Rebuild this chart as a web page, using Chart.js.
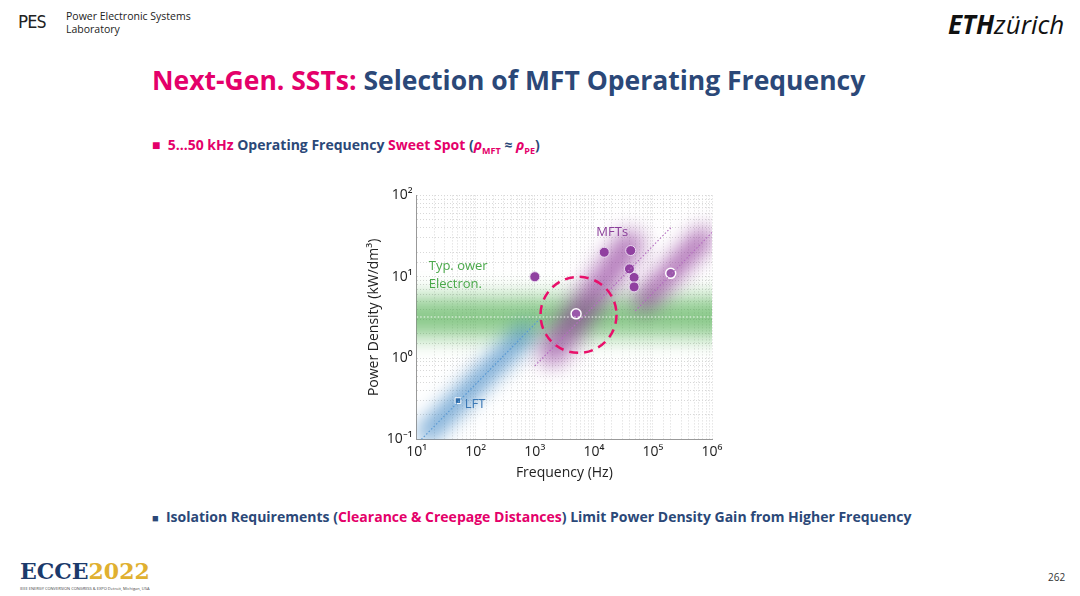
<!DOCTYPE html>
<html><head><meta charset="utf-8">
<script src="https://cdn.jsdelivr.net/npm/chart.js@4"></script>
<style>
body{margin:0;width:1080px;height:596px;background:#fff;font-family:"Open Sans",sans-serif;position:relative;overflow:hidden}
.abs{position:absolute}
#box{left:366px;top:183px;width:364px;height:298px}
</style></head><body>
<div class="abs" style="left:18px;top:12px;font:17px 'DejaVu Sans Mono';letter-spacing:-1px;color:#222">PES</div>
<div class="abs" style="left:66px;top:10px;font-size:10.5px;line-height:13px;color:#222">Power Electronic Systems</div>
<div class="abs" style="left:66px;top:23px;font-size:10.5px;line-height:13px;color:#222">Laboratory</div>
<div class="abs" style="left:948px;top:6px;font-size:26px;color:#111"><b><i>ETH</i></b><span style="font-style:italic">zürich</span></div>
<div class="abs" style="left:152px;top:62px;font-size:26.5px;font-weight:bold;color:#2b4878"><span style="color:#e4006a">Next-Gen. SSTs:</span> Selection of MFT Operating Frequency</div>
<div class="abs" style="left:152px;top:135px;font-size:14px;font-weight:bold;color:#2b4878"><span style="color:#e4006a">■</span>&nbsp; <span style="color:#e4006a">5…50 kHz</span> Operating Frequency <span style="color:#e4006a">Sweet Spot</span> (<i style="color:#e4006a">ρ</i><sub style="color:#e4006a;font-size:9px">MFT</sub> ≈ <i style="color:#e4006a">ρ</i><sub style="color:#e4006a;font-size:9px">PE</sub>)</div>
<div class="abs" style="left:152px;top:507px;font-size:14px;font-weight:bold;color:#2b4878"><span style="font-size:11px">■</span>&nbsp; Isolation Requirements (<span style="color:#e4006a">Clearance &amp; Creepage Distances</span>) Limit Power Density Gain from Higher Frequency</div>
<div class="abs" style="left:20px;top:558px;font:bold 22px 'DejaVu Serif';color:#1b3a6b">ECCE<span style="color:#e0b030">2022</span></div>
<div class="abs" style="left:20px;top:586px;font-size:4px;color:#444">IEEE ENERGY CONVERSION CONGRESS &amp; EXPO Detroit, Michigan, USA</div>
<div class="abs" style="left:1048px;top:570px;font-size:10px;color:#333">262</div>
<div id="box" class="abs"><canvas id="c"></canvas></div>
<script>
// lignes de tendance
const lftLine = [{x:12,y:0.1},{x:1200,y:3}];
const mftLine1 = [{x:1000,y:0.8},{x:200000,y:40}];
const mftLine2 = [{x:50000,y:3.8},{x:1000000,y:35}];
const peLine = [{x:10,y:3.2},{x:1000000,y:3.2}];
// points mesurés
const mftFilled = [{x:1000,y:10},{x:15000,y:20},{x:42000,y:21},{x:40000,y:12.5},{x:48000,y:9.8},{x:48000,y:7.5}];
const mftOpen = [{x:5000,y:3.5},{x:200000,y:11}];
const lftPoint = [{x:50,y:0.3}];
const sweetSpot = {x:5500,y:3.4};
const supers = {'-1':'⁻¹','0':'⁰','1':'¹','2':'²','3':'³','4':'⁴','5':'⁵','6':'⁶'};

const glow = {
  id:'glow',
  beforeDatasetsDraw(chart){
    const {ctx, scales:{x,y}, chartArea:a} = chart;
    ctx.save();
    ctx.beginPath(); ctx.rect(a.left,a.top,a.right-a.left,a.bottom-a.top); ctx.clip();
    ctx.filter='blur(10px)';
    const band = (p0,p1,col,w)=>{
      ctx.strokeStyle=col; ctx.lineWidth=w; ctx.lineCap='round';
      ctx.beginPath();
      ctx.moveTo(x.getPixelForValue(p0.x),y.getPixelForValue(p0.y));
      ctx.lineTo(x.getPixelForValue(p1.x),y.getPixelForValue(p1.y));
      ctx.stroke();
    };
    band({x:5,y:3.2},{x:3e6,y:3.2},'rgba(70,170,70,0.4)',46);
    band({x:5,y:3.2},{x:3e6,y:3.2},'rgba(70,170,70,0.5)',20);
    band({x:15,y:0.12},{x:700,y:2},'rgba(40,120,190,0.75)',18);
    band({x:2000,y:1.2},{x:40000,y:25},'rgba(140,50,150,0.65)',28);
    band({x:70000,y:5},{x:700000,y:30},'rgba(140,50,150,0.75)',20);
    ctx.restore();
  },
  afterDatasetsDraw(chart){
    const {ctx, scales:{x,y}} = chart;
    ctx.save();
    ctx.strokeStyle='#e8106a'; ctx.lineWidth=2.5; ctx.setLineDash([9,6]);
    ctx.beginPath();
    ctx.arc(x.getPixelForValue(sweetSpot.x),y.getPixelForValue(sweetSpot.y),38,0,Math.PI*2);
    ctx.stroke();
    ctx.setLineDash([]);
    ctx.font='13px "Open Sans"';
    ctx.fillStyle='#4aa84a';
    ctx.fillText('Typ. ower',x.getPixelForValue(16),y.getPixelForValue(12));
    ctx.fillText('Electron.',x.getPixelForValue(16),y.getPixelForValue(7.2));
    ctx.fillStyle='#8b3f9a';
    ctx.fillText('MFTs',x.getPixelForValue(11000),y.getPixelForValue(32));
    ctx.fillStyle='#3a78b5';
    ctx.fillText('LFT',x.getPixelForValue(65),y.getPixelForValue(0.24));
    ctx.restore();
  }
};

const tickLabel = v=>{const e=Math.log10(v);return Math.abs(e-Math.round(e))<1e-6?'10'+supers[Math.round(e)]:'';};
const dotted = (data,col)=>({type:'line',data,borderColor:col,borderWidth:1.2,borderDash:[1.5,2],pointRadius:0,fill:false});
new Chart(document.getElementById('c'),{
  type:'scatter',
  data:{datasets:[
    dotted(peLine,'rgba(255,255,255,0.9)'),
    dotted(lftLine,'#5a9ad5'),
    dotted(mftLine1,'#b56ec0'),
    dotted(mftLine2,'#b56ec0'),
    {data:mftFilled,pointRadius:5,backgroundColor:'#9040a0',borderColor:'#e8d8ee',borderWidth:1},
    {data:mftOpen,pointRadius:5,backgroundColor:'#9a58aa',borderColor:'#fff',borderWidth:1.5},
    {data:lftPoint,pointStyle:'rect',pointRadius:4,backgroundColor:'#2c6aa8',borderColor:'#fff',borderWidth:1}
  ]},
  options:{
    responsive:true,maintainAspectRatio:false,animation:false,
    layout:{padding:{right:18,top:10}},
    plugins:{legend:{display:false},tooltip:{enabled:false}},
    scales:{
      x:{type:'logarithmic',min:10,max:1e6,
        title:{display:true,text:'Frequency (Hz)',color:'#222',font:{size:14,family:'Open Sans'},padding:0},
        grid:{color:'#d8d8d8',drawTicks:false},
        border:{color:'#999',dash:[1,2]},
        ticks:{color:'#222',font:{size:14,family:'Open Sans'},autoSkip:false,maxRotation:0,padding:4,callback:tickLabel}},
      y:{type:'logarithmic',min:0.1,max:100,
        title:{display:true,text:'Power Density (kW/dm³)',color:'#222',font:{size:14,family:'Open Sans'},padding:0},
        grid:{color:'#d8d8d8',drawTicks:false},
        border:{color:'#999',dash:[1,2]},
        ticks:{color:'#222',font:{size:14,family:'Open Sans'},autoSkip:false,padding:4,callback:tickLabel}}
    }
  },
  plugins:[glow]
});
</script>
</body></html>
